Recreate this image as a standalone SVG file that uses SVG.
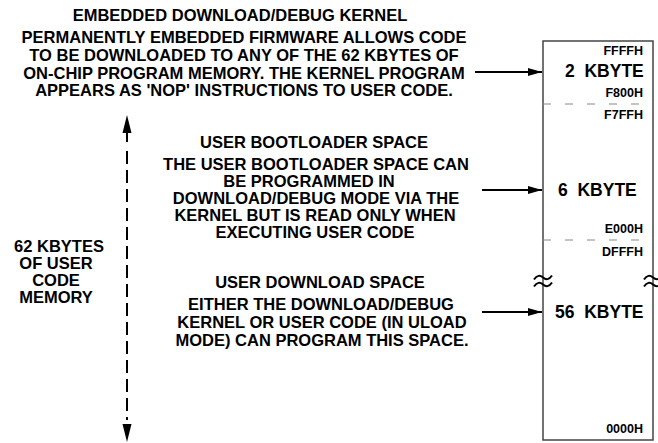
<svg xmlns="http://www.w3.org/2000/svg" width="658" height="443" viewBox="0 0 658 443">
<style>
text{font-family:"Liberation Sans",Arial,sans-serif;font-weight:bold;fill:#000}
.t{font-size:16.5px;text-anchor:middle}
.k{font-size:17.5px;white-space:pre}
.h{font-size:12.5px;text-anchor:end}
.arr{stroke:#000;stroke-width:2;fill:none}
.dash{stroke:#888;stroke-width:1;stroke-dasharray:8 14;fill:none}
.til{stroke:#000;stroke-width:2;fill:none}
</style>
<defs>
<marker id="ah" viewBox="0 0 14 8" refX="14" refY="4" markerWidth="14" markerHeight="8" markerUnits="userSpaceOnUse" orient="auto">
<path d="M0,0 L14,4 L0,8 Z" fill="#000"/>
</marker>
</defs>
<g id="memory-map">
<rect x="543" y="41" width="110" height="399" fill="#fff" stroke="#444" stroke-width="1.5"/>
<line class="dash" x1="543" y1="104" x2="653" y2="104"/>
<line class="dash" x1="543" y1="240" x2="653" y2="240"/>
<path class="til" d="M534,279.5 C537,275 540,275 543,277.5 C546,280 549,280 552,275.5 M534,286.5 C537,282 540,282 543,284.5 C546,287 549,287 552,282.5"/>
<path class="til" d="M644,279.5 C647,275 650,275 653,277.5 C656,280 659,280 662,275.5 M644,286.5 C647,282 650,282 653,284.5 C656,287 659,287 662,282.5"/>
<text class="h" x="643" y="55">FFFFH</text>
<text class="k" x="565" y="77">2  KBYTE</text>
<text class="h" x="643" y="97">F800H</text>
<text class="h" x="643" y="119">F7FFH</text>
<text class="k" x="558" y="196">6  KBYTE</text>
<text class="h" x="643" y="233">E000H</text>
<text class="h" x="643" y="256">DFFFH</text>
<text class="k" x="555" y="318">56  KBYTE</text>
<text class="h" x="643" y="433">0000H</text>
</g>
<g id="kernel">
<text class="t" x="240" y="21">EMBEDDED DOWNLOAD/DEBUG KERNEL</text>
<text class="t" x="244" y="43">PERMANENTLY EMBEDDED FIRMWARE ALLOWS CODE</text>
<text class="t" x="244" y="61">TO BE DOWNLOADED TO ANY OF THE 62 KBYTES OF</text>
<text class="t" x="244" y="79">ON-CHIP PROGRAM MEMORY. THE KERNEL PROGRAM</text>
<text class="t" x="244" y="96">APPEARS AS 'NOP' INSTRUCTIONS TO USER CODE.</text>
</g>
<g id="bootloader">
<text class="t" x="314" y="148">USER BOOTLOADER SPACE</text>
<text class="t" x="316" y="170">THE USER BOOTLOADER SPACE CAN</text>
<text class="t" x="309" y="187">BE PROGRAMMED IN</text>
<text class="t" x="316" y="204">DOWNLOAD/DEBUG MODE VIA THE</text>
<text class="t" x="315" y="221">KERNEL BUT IS READ ONLY WHEN</text>
<text class="t" x="315" y="238">EXECUTING USER CODE</text>
</g>
<g id="download">
<text class="t" x="320" y="288">USER DOWNLOAD SPACE</text>
<text class="t" x="321" y="310">EITHER THE DOWNLOAD/DEBUG</text>
<text class="t" x="322" y="328">KERNEL OR USER CODE (IN ULOAD</text>
<text class="t" x="322" y="346">MODE) CAN PROGRAM THIS SPACE.</text>
</g>
<g id="user-code">
<text class="t" x="59" y="252">62 KBYTES</text>
<text class="t" x="56" y="269">OF USER</text>
<text class="t" x="56" y="286">CODE</text>
<text class="t" x="56" y="303">MEMORY</text>
</g>
<g id="connectors">
<line class="arr" x1="475" y1="72" x2="542" y2="72" marker-end="url(#ah)"/>
<line class="arr" x1="482" y1="190" x2="542" y2="190" marker-end="url(#ah)"/>
<line class="arr" x1="482" y1="312" x2="542" y2="312" marker-end="url(#ah)"/>
<path d="M127,115 L131.5,133 L122.5,133 Z" fill="#000"/>
<line x1="127" y1="132" x2="127" y2="142" stroke="#000" stroke-width="2"/>
<line x1="127" y1="151" x2="127" y2="420" stroke="#000" stroke-width="2" stroke-dasharray="13 6"/>
<path d="M127,442 L131.5,424 L122.5,424 Z" fill="#000"/>
</g>
</svg>
